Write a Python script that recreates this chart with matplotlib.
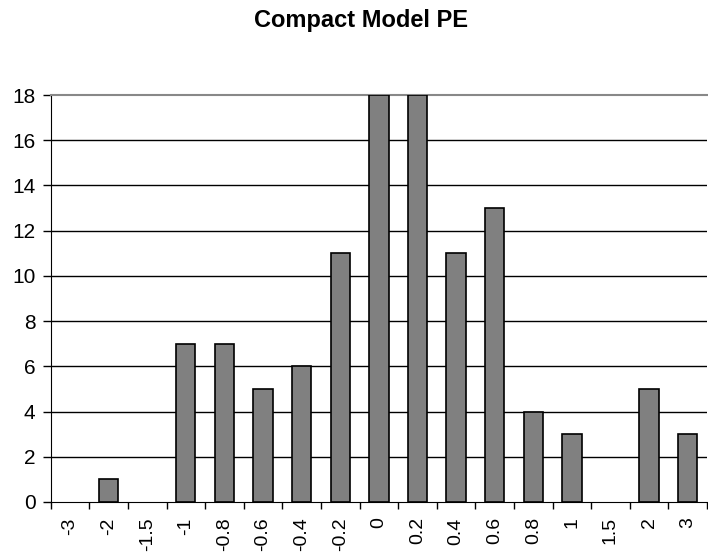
import matplotlib
matplotlib.use("Agg")
import matplotlib.pyplot as plt
import numpy as np

plt.rcParams['font.family'] = ['Liberation Sans', 'DejaVu Sans']

categories = ['-3', '-2', '-1.5', '-1', '-0.8', '-0.6', '-0.4', '-0.2', '0',
              '0.2', '0.4', '0.6', '0.8', '1', '1.5', '2', '3']
counts = [0, 1, 0, 7, 7, 5, 6, 11, 18, 18, 11, 13, 4, 3, 0, 5, 3]
y_ticks = [0, 2, 4, 6, 8, 10, 12, 14, 16, 18]

fig = plt.figure(figsize=(7.08, 5.54), dpi=100)
ax = fig.add_axes([0.0716, 0.0939, 0.9270, 0.7346])

x = np.arange(len(categories))
# empty bins get no outline
edge_widths = [1.2 if c > 0 else 0 for c in counts]
ax.bar(x, counts, width=0.5, color='#808080', edgecolor='black',
       linewidth=edge_widths, zorder=3)

ax.set_xlim(-0.5, len(categories) - 0.5)
ax.set_ylim(0, 18)
ax.set_yticks(y_ticks)
ax.set_yticklabels([str(v) for v in y_ticks], fontsize=15)

# category labels centred under bars, tick marks between categories
ax.set_xticks(x)
ax.set_xticklabels(categories, rotation=90, fontsize=14)
ax.tick_params(axis='x', which='major', length=0, pad=11)
ax.set_xticks(np.arange(-0.5, len(categories) + 0.5, 1), minor=True)
ax.tick_params(axis='x', which='minor', length=5, width=1, direction='out')
ax.tick_params(axis='y', length=6, width=1, direction='out', pad=5)

for v in y_ticks[1:-1]:
    ax.axhline(v, color='black', linewidth=1, zorder=1)

ax.spines['right'].set_visible(False)
ax.spines['top'].set_color('#888888')
ax.spines['top'].set_linewidth(1.5)
ax.spines['left'].set_color('black')
ax.spines['bottom'].set_color('black')

fig.text(0.510, 1 - 20 / 554, 'Compact Model PE', ha='center', va='center',
         fontsize=17, fontweight='bold')

fig.savefig('out.png', dpi=100)
